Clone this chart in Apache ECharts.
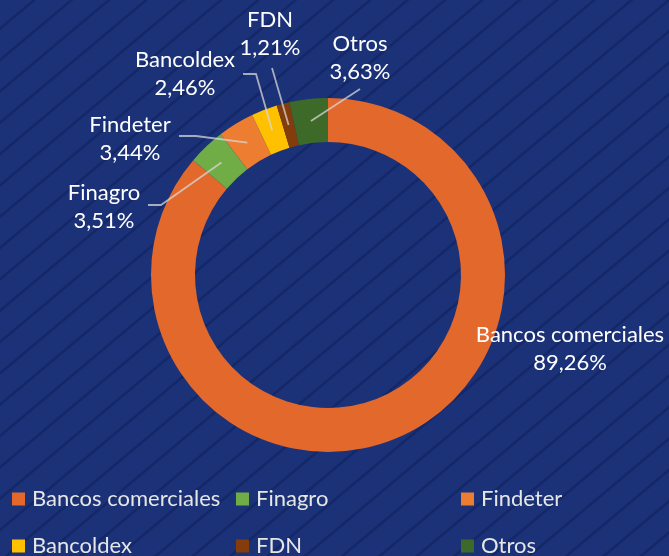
<!DOCTYPE html>
<html>
<head>
<meta charset="utf-8">
<script src="https://cdn.jsdelivr.net/npm/echarts@6/dist/echarts.min.js"></script>
<style>
  html, body { margin: 0; padding: 0; }
  #chart {
    width: 669px; height: 556px;
    background-color: #1b3279;
    background-image: repeating-linear-gradient(140deg, rgba(0,0,0,0) 0px, rgba(0,0,0,0) 20px, rgba(12,28,85,0.5) 21.5px, rgba(12,28,85,0.5) 22.5px, rgba(0,0,0,0) 24px);
  }
</style>
</head>
<body>
<div id="chart"></div>
<script>
// ---- data ----
const categories = ['Bancos comerciales', 'Finagro', 'Findeter', 'Bancoldex', 'FDN', 'Otros'];
const values = [89.26, 3.51, 3.44, 2.46, 1.21, 3.63];
const colors = ['#e3682b', '#70ad47', '#ed7d31', '#ffc000', '#843c0c', '#3e6a29'];

// ---- layout (not data) ----
const center = [328, 275];
const radii = [133, 177];
const legendSlots = {
  'Bancos comerciales': [12, 487], 'Finagro': [236, 487], 'Findeter': [461, 487],
  'Bancoldex': [12, 534], 'FDN': [236, 534], 'Otros': [461, 534]
};
const labelCenters = {
  'Bancos comerciales': [570, 349],
  'Finagro': [104, 207],
  'Findeter': [130, 139],
  'Bancoldex': [185, 74],
  'FDN': [270, 34],
  'Otros': [360, 58]
};
const leaderTails = {
  'Finagro': [[161, 205], [148, 205]],
  'Findeter': [[196, 136], [179, 136]],
  'Bancoldex': [[256, 74], [243, 74]],
  'FDN': [[272, 68]],
  'Otros': [[360, 89]]
};

const total = values.reduce((a, b) => a + b, 0);
function midPoint(i, r) {
  let before = 0;
  for (let k = 0; k < i; k++) before += values[k];
  const ang = (before + values[i] / 2) / total * 2 * Math.PI;
  return [center[0] + r * Math.sin(ang), center[1] - r * Math.cos(ang)];
}

const chart = echarts.init(document.getElementById('chart'), null, { renderer: 'canvas' });
const font = 'Lato, "Noto Sans", sans-serif';

const legends = categories.map((name, i) => ({
  left: legendSlots[name][0],
  top: legendSlots[name][1],
  itemWidth: 13,
  itemHeight: 13,
  icon: 'rect',
  selectedMode: false,
  padding: 0,
  data: [{ name: name, itemStyle: { color: colors[i] } }],
  textStyle: { color: '#e6e6e6', fontSize: 22, fontFamily: font, lineHeight: 24, padding: [0, 0, 0, 2] }
}));

const baseData = categories.map((name, i) => ({ name: name, value: values[i] }));

chart.setOption({
  backgroundColor: 'transparent',
  animation: false,
  color: colors,
  legend: legends,
  series: [{
    type: 'pie',
    z: 2,
    center: center,
    radius: radii,
    startAngle: 90,
    clockwise: true,
    silent: true,
    data: baseData,
    itemStyle: { borderWidth: 0 },
    label: { show: false },
    labelLine: { show: false }
  }, {
    type: 'pie',
    z: 5,
    center: center,
    radius: radii,
    startAngle: 90,
    clockwise: true,
    silent: true,
    avoidLabelOverlap: false,
    data: categories.map((name, i) => ({
      name: name,
      value: values[i],
      labelLine: { show: i !== 0 }
    })),
    itemStyle: { color: 'rgba(0,0,0,0)', borderWidth: 0 },
    label: {
      show: true,
      position: 'outside',
      color: '#ffffff',
      fontSize: 22,
      fontFamily: font,
      lineHeight: 28,
      align: 'center',
      formatter: p => p.name + '\n' + p.value.toFixed(2).replace('.', ',') + '%'
    },
    labelLine: {
      show: true,
      lineStyle: { color: 'rgba(215,215,215,0.75)', width: 1.8 }
    },
    labelLayout: function (params) {
      const i = params.dataIndex;
      const name = categories[i];
      const c = labelCenters[name];
      const res = { x: c[0], y: c[1], align: 'center', verticalAlign: 'middle' };
      if (leaderTails[name]) {
        res.labelLinePoints = [midPoint(i, (radii[0] + radii[1]) / 2)].concat(leaderTails[name]);
      }
      return res;
    }
  }]
});
</script>
</body>
</html>
